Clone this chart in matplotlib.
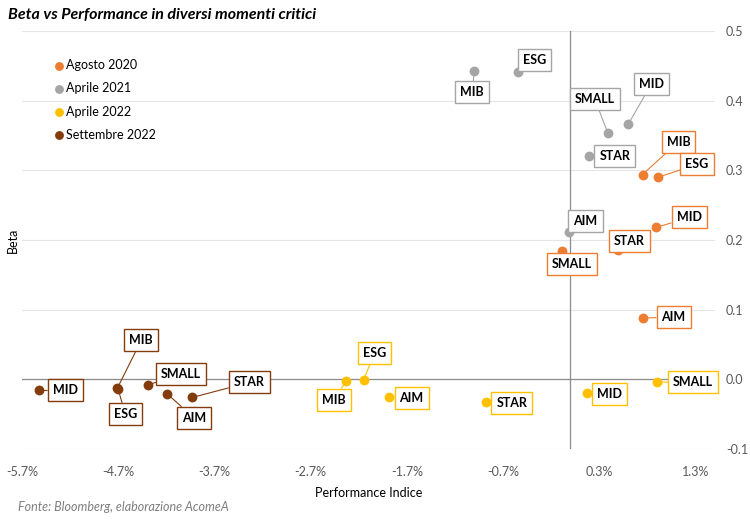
import matplotlib.pyplot as plt
import numpy as np

plt.rcParams['font.family'] = ['Lato', 'DejaVu Sans']

labels = ['MIB', 'ESG', 'MID', 'STAR', 'SMALL', 'AIM']

# performance (%) e beta per periodo
perf_ago20 = [0.75, 0.91, 0.89, 0.49, -0.09, 0.75]
beta_ago20 = [0.294, 0.290, 0.218, 0.186, 0.184, 0.088]
perf_apr21 = [-1.00, -0.55, 0.60, 0.19, 0.39, -0.01]
beta_apr21 = [0.442, 0.441, 0.366, 0.320, 0.353, 0.211]
perf_apr22 = [-2.33, -2.15, 0.17, -0.88, 0.90, -1.89]
beta_apr22 = [-0.002, -0.001, -0.020, -0.033, -0.004, -0.026]
perf_set22 = [-4.71, -4.70, -5.52, -3.93, -4.39, -4.19]
beta_set22 = [-0.013, -0.014, -0.016, -0.026, -0.008, -0.021]

series = [
    ('Agosto 2020', perf_ago20, beta_ago20, '#ED7D31',
     [(36, 33), (39, 13), (33, 10), (12, 9), (10, -13), (31, 1)]),
    ('Aprile 2021', perf_apr21, beta_apr21, '#A5A5A5',
     [(-2, -21), (17, 12), (23, 40), (26, 0), (-13, 34), (16, 11)]),
    ('Aprile 2022', perf_apr22, beta_apr22, '#FFC000',
     [(-12, -19), (11, 27), (23, -1), (26, -1), (36, 0), (23, -1)]),
    ('Settembre 2022', perf_set22, beta_set22, '#843C0C',
     [(24, 48), (7, -25), (26, 0), (57, 15), (33, 11), (27, -24)]),
]

fig = plt.figure(figsize=(7.5, 5.26), dpi=100)
ax = fig.add_axes([0.0293, 0.1464, 0.9237, 0.7946])

ax.set_xlim(-5.7, 1.5)
ax.set_ylim(-0.1, 0.5)
ax.set_xticks(np.arange(-5.7, 1.31, 1.0))
ax.set_xticklabels(['%.1f%%' % v for v in np.arange(-5.7, 1.31, 1.0)])
ax.set_yticks(np.arange(-0.1, 0.51, 0.1))
ax.set_yticklabels(['%.1f' % v for v in np.arange(-0.1, 0.51, 0.1)])
ax.yaxis.tick_right()
ax.tick_params(length=0, labelsize=9, colors='#595959')
ax.tick_params(axis='x', pad=12)
ax.tick_params(axis='y', pad=8)
for s in ax.spines.values():
    s.set_visible(False)
ax.grid(axis='y', color='#E6E6E6', lw=0.8)
ax.set_axisbelow(True)
ax.axhline(0, color='#8C8C8C', lw=0.9, zorder=1)
ax.axvline(0, color='#8C8C8C', lw=0.9, zorder=1)

for name, xs, ys, col, offs in series:
    ax.scatter(xs, ys, s=50, color=col, label=name, zorder=3, linewidths=0)
    for lab, x, y, (dx, dy) in zip(labels, xs, ys, offs):
        ax.annotate(lab, (x, y), xytext=(dx, dy), textcoords='offset pixels',
                    ha='center', va='center', fontsize=9, fontweight='bold',
                    color='black', zorder=4,
                    bbox=dict(boxstyle='square,pad=0.4', fc='white', ec=col, lw=1),
                    arrowprops=dict(arrowstyle='-', color=col, lw=0.8,
                                    shrinkA=0, shrinkB=3))

leg = ax.legend(loc='upper left', bbox_to_anchor=(0.028, 0.96), frameon=False,
                fontsize=9, handletextpad=0.05, labelspacing=0.9,
                markerscale=0.9, handlelength=1.0)

ax.set_xlabel('Performance Indice', fontsize=9, labelpad=7)
ax.set_ylabel('Beta', fontsize=9, labelpad=2)
ax.yaxis.set_label_position('left')

fig.text(0.011, 0.972, 'Beta vs Performance in diversi momenti critici',
         fontsize=11.5, fontweight='bold', style='italic', va='center')
fig.text(0.024, 0.036, 'Fonte: Bloomberg, elaborazione AcomeA',
         fontsize=9, style='italic', color='#7F7F7F', va='center')

fig.savefig('out.png', dpi=100)
